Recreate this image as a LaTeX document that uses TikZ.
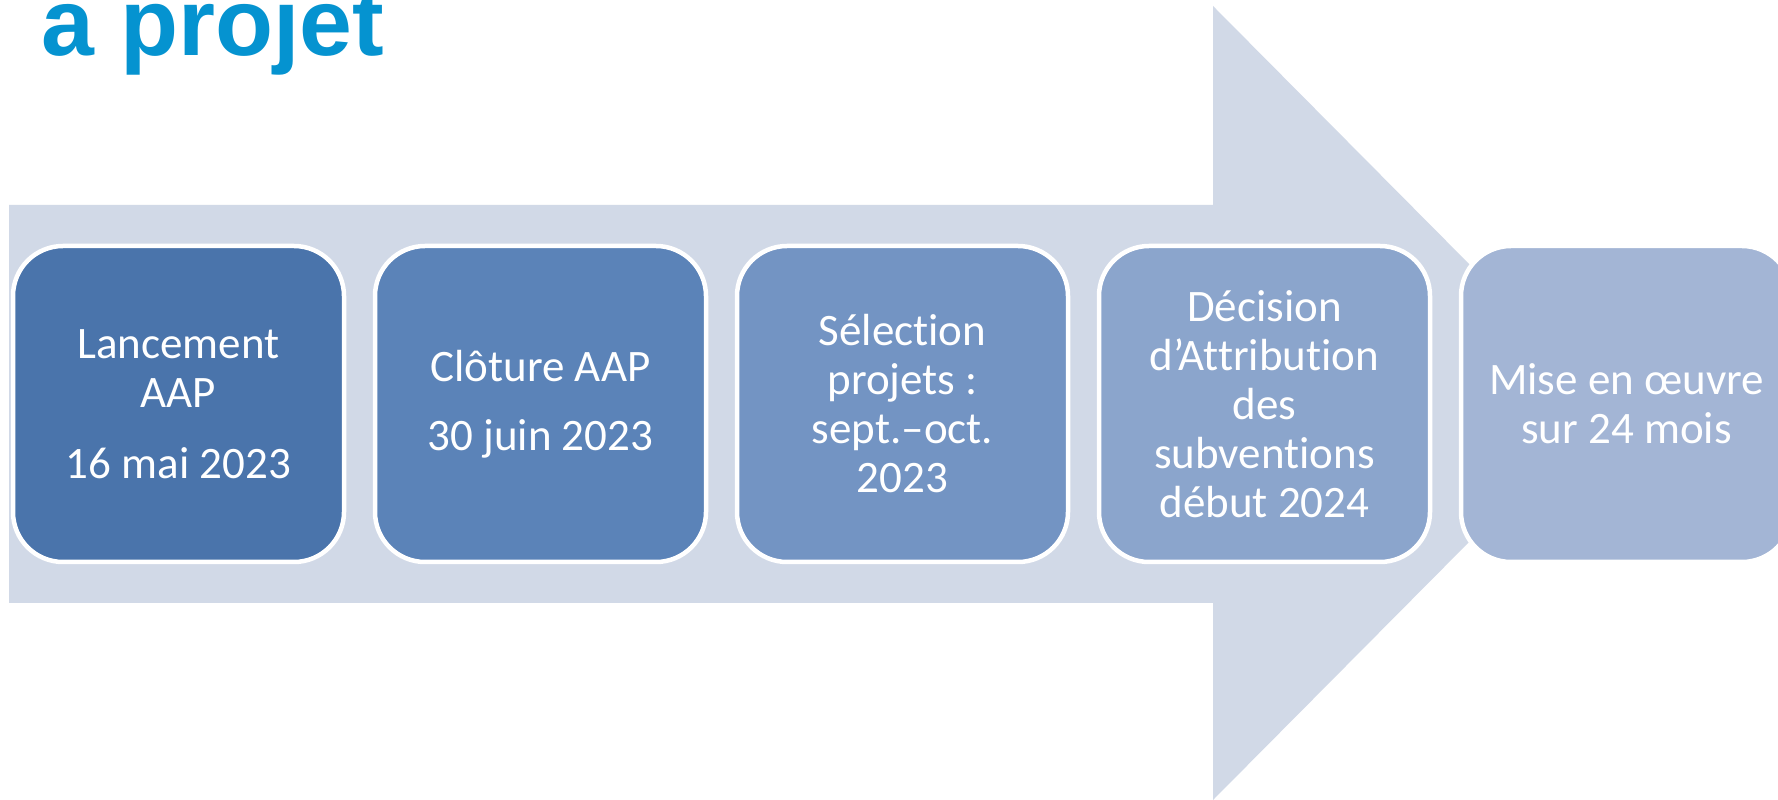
\documentclass[tikz,border=0pt]{standalone}
\usepackage{fontspec}
\setmainfont{Carlito}[Ligatures=NoCommon]
\newfontfamily\titlefont{Liberation Sans}
\usetikzlibrary{positioning}

\definecolor{arrowfill}{HTML}{D1D9E7}
\definecolor{titleblue}{HTML}{0593D0}
\definecolor{stageA}{HTML}{4A74AB}
\definecolor{stageB}{HTML}{5B83B8}
\definecolor{stageC}{HTML}{7394C3}
\definecolor{stageD}{HTML}{8BA5CC}
\definecolor{stageE}{HTML}{A3B5D5}

\tikzstyle{stage_node} = [rectangle, rounded corners=50pt, draw=white, line width=4.5pt, text=white, align=center, minimum width=331pt, minimum height=316pt, font=\fontsize{45}{49}\selectfont]
\tikzstyle{title_text} = [anchor=base west, inner sep=0pt, text=titleblue, font=\titlefont\bfseries\fontsize{95}{95}\selectfont]

\begin{document}
\begin{tikzpicture}[x=1pt, y=1pt, node distance=362pt]
    \clip (0,0) rectangle (1778,800);
    \fill [white] (0,0) rectangle (1778,800);

    % big arrow behind the stages
    \fill [arrowfill] (9,595) -- (1213,595) -- (1213,794) -- (1607,397)
        -- (1213,0) -- (1213,197) -- (9,197) -- cycle;

    \node (title) [title_text] at (41,744) {a projet};

    \node (lancement)  [stage_node, fill=stageA] at (178.5,396) {Lancement\\AAP\\[22pt]16 mai 2023};
    \node (cloture)    [stage_node, fill=stageB, right of=lancement] {Clôture AAP\\[20pt]30 juin 2023};
    \node (selection)  [stage_node, fill=stageC, right of=cloture] {Sélection\\projets :\\sept.–oct.\\2023};
    \node (decision)   [stage_node, fill=stageD, right of=selection] {Décision\\d’Attribution\\des\\subventions\\début 2024};
    \node (miseoeuvre) [stage_node, fill=stageE, right of=decision] {Mise en œuvre\\sur 24 mois};
\end{tikzpicture}
\end{document}
